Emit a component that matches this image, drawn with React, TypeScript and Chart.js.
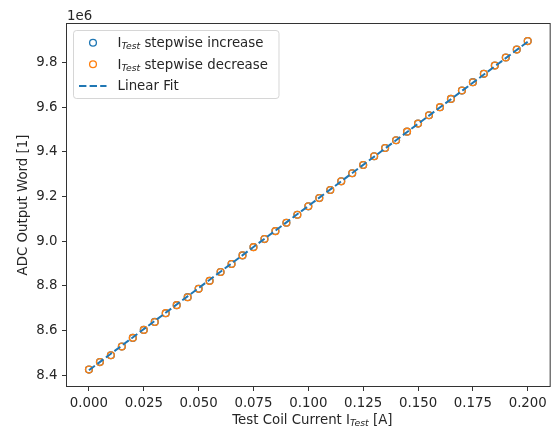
import React, { useEffect, useRef } from "react";
import { Chart, registerables } from "chart.js";

Chart.register(...registerables);

const currents = [
  0, 0.005, 0.01, 0.015, 0.02, 0.025, 0.03, 0.035, 0.04, 0.045,
  0.05, 0.055, 0.06, 0.065, 0.07, 0.075, 0.08, 0.085, 0.09, 0.095,
  0.1, 0.105, 0.11, 0.115, 0.12, 0.125, 0.13, 0.135, 0.14, 0.145,
  0.15, 0.155, 0.16, 0.165, 0.17, 0.175, 0.18, 0.185, 0.19, 0.195, 0.2,
];

const increaseWord = [
  8425600, 8459000, 8489700, 8528700, 8567300, 8603100, 8639000, 8678000, 8713900, 8749800,
  8787000, 8822900, 8862500, 8898500, 8936800, 8974000, 9009900, 9045700, 9083000, 9118800,
  9156500, 9193700, 9229600, 9268600, 9304500, 9341700, 9380700, 9417900, 9452500, 9491000,
  9526900, 9564600, 9600400, 9637700, 9674900, 9712600, 9749800, 9787000, 9822900, 9858700, 9896400,
];

const decreaseWord = [
  8425400, 8459200, 8489900, 8528500, 8567500, 8603300, 8638800, 8678200, 8714100, 8749600,
  8787200, 8822700, 8862700, 8898300, 8937000, 8973800, 9010100, 9045500, 9083200, 9118600,
  9156700, 9193500, 9229800, 9268400, 9304700, 9341500, 9380900, 9417700, 9452700, 9490800,
  9527100, 9564400, 9600600, 9637500, 9675100, 9712400, 9750000, 9786800, 9823100, 9858500, 9896600,
];

const fitCurrent = [0, 0.2];
const fitWord = [8422800, 9893800];

const xTicks = [0, 0.025, 0.05, 0.075, 0.1, 0.125, 0.15, 0.175, 0.2];
const yTicks = [8400000, 8600000, 8800000, 9000000, 9200000, 9400000, 9600000, 9800000];

const BLUE = "#1f77b4";
const ORANGE = "#ff7f0e";
const TEXT = "#262626";
const FAMILY = "'DejaVu Sans', sans-serif";
const FS = 13.33;

type Part = { text: string; font: string; dy: number };

function richWidth(ctx: CanvasRenderingContext2D, parts: Part[]) {
  let w = 0;
  for (const p of parts) {
    ctx.font = p.font;
    w += ctx.measureText(p.text).width;
  }
  return w;
}

function drawRich(ctx: CanvasRenderingContext2D, parts: Part[], x: number, y: number) {
  let cx = x;
  for (const p of parts) {
    ctx.font = p.font;
    ctx.fillText(p.text, cx, y + p.dy);
    cx += ctx.measureText(p.text).width;
  }
}

const main = `${FS}px ${FAMILY}`;
const sub = `italic 9.3px ${FAMILY}`;

const decorPlugin = {
  id: "decor",
  afterDraw(chart: any) {
    const ctx: CanvasRenderingContext2D = chart.ctx;
    const a = chart.chartArea;
    ctx.save();
    // frame
    ctx.strokeStyle = "#333";
    ctx.lineWidth = 1;
    ctx.strokeRect(a.left - 0.5, a.top - 0.5, a.right - a.left + 1, a.bottom - a.top + 1);

    ctx.fillStyle = TEXT;
    ctx.textBaseline = "alphabetic";
    ctx.textAlign = "left";

    // offset text
    ctx.font = main;
    ctx.fillText("1e6", a.left, 20);

    // x title
    const xParts: Part[] = [
      { text: "Test Coil Current I", font: main, dy: 0 },
      { text: "Test", font: sub, dy: 2 },
      { text: " [A]", font: main, dy: 0 },
    ];
    const xw = richWidth(ctx, xParts);
    drawRich(ctx, xParts, (a.left + a.right) / 2 - xw / 2 + 4, 423.5);

    // y title
    ctx.save();
    ctx.translate(26.5, (a.top + a.bottom) / 2);
    ctx.rotate(-Math.PI / 2);
    ctx.font = main;
    ctx.textAlign = "center";
    ctx.fillText("ADC Output Word [1]", 0, 0);
    ctx.restore();

    // legend
    const bx = 73.5, by = 30.5, bw = 205.5, bh = 68, r = 3;
    ctx.beginPath();
    ctx.moveTo(bx + r, by);
    ctx.lineTo(bx + bw - r, by);
    ctx.arcTo(bx + bw, by, bx + bw, by + r, r);
    ctx.lineTo(bx + bw, by + bh - r);
    ctx.arcTo(bx + bw, by + bh, bx + bw - r, by + bh, r);
    ctx.lineTo(bx + r, by + bh);
    ctx.arcTo(bx, by + bh, bx, by + bh - r, r);
    ctx.lineTo(bx, by + r);
    ctx.arcTo(bx, by, bx + r, by, r);
    ctx.closePath();
    ctx.fillStyle = "rgba(255,255,255,0.8)";
    ctx.fill();
    ctx.strokeStyle = "rgba(204,204,204,0.8)";
    ctx.lineWidth = 1;
    ctx.stroke();

    const rows = [
      { kind: "marker", color: BLUE, label: "stepwise increase", y: 42.7 },
      { kind: "marker", color: ORANGE, label: "stepwise decrease", y: 64.3 },
      { kind: "line", color: BLUE, label: "Linear Fit", y: 86 },
    ];
    for (const row of rows) {
      if (row.kind === "marker") {
        ctx.beginPath();
        ctx.arc(93, row.y, 3.4, 0, Math.PI * 2);
        ctx.strokeStyle = row.color;
        ctx.lineWidth = 1.33;
        ctx.stroke();
        ctx.fillStyle = TEXT;
        drawRich(ctx, [
          { text: "I", font: main, dy: 0 },
          { text: "Test", font: sub, dy: 2 },
          { text: " " + row.label, font: main, dy: 0 },
        ], 117.5, row.y + 4.3);
      } else {
        ctx.beginPath();
        ctx.setLineDash([7.4, 3.2]);
        ctx.moveTo(79, row.y);
        ctx.lineTo(106.5, row.y);
        ctx.strokeStyle = row.color;
        ctx.lineWidth = 2;
        ctx.stroke();
        ctx.setLineDash([]);
        ctx.fillStyle = TEXT;
        ctx.font = main;
        ctx.fillText(row.label, 117.5, row.y + 4.3);
      }
    }
    ctx.restore();
  },
};

export default function App() {
  const ref = useRef<HTMLCanvasElement | null>(null);

  useEffect(() => {
    if (!ref.current) return;
    const tickFont = { family: FAMILY, size: FS };
    const chart = new Chart(ref.current, {
      type: "scatter",
      data: {
        datasets: [
          {
            label: "Linear Fit",
            data: fitCurrent.map((x, i) => ({ x, y: fitWord[i] })),
            showLine: true,
            borderColor: BLUE,
            borderWidth: 2,
            borderDash: [7.4, 3.2],
            pointRadius: 0,
            order: 0,
          },
          {
            label: "I_Test stepwise decrease",
            data: currents.map((x, i) => ({ x, y: decreaseWord[i] })),
            showLine: false,
            pointStyle: "circle",
            pointRadius: 3.4,
            borderWidth: 1.33,
            borderColor: ORANGE,
            backgroundColor: "rgba(0,0,0,0)",
            order: 1,
          },
          {
            label: "I_Test stepwise increase",
            data: currents.map((x, i) => ({ x, y: increaseWord[i] })),
            showLine: false,
            pointStyle: "circle",
            pointRadius: 3.4,
            borderWidth: 1.33,
            borderColor: BLUE,
            backgroundColor: "rgba(0,0,0,0)",
            order: 2,
          },
        ],
      },
      options: {
        responsive: false,
        animation: false,
        devicePixelRatio: 1,
        layout: { padding: { top: 24, right: 2, left: 0, bottom: 0 } },
        plugins: {
          legend: { display: false },
          tooltip: { enabled: false },
        },
        scales: {
          x: {
            type: "linear",
            min: -0.01,
            max: 0.21,
            afterBuildTicks: (s: any) => {
              s.ticks = xTicks.map((v) => ({ value: v }));
            },
            afterFit: (s: any) => {
              s.height = 42;
            },
            ticks: {
              autoSkip: false,
              maxRotation: 0,
              padding: 5,
              color: TEXT,
              font: tickFont,
              callback: (v: any) => Number(v).toFixed(3),
            },
            grid: {
              display: true,
              drawOnChartArea: false,
              drawTicks: true,
              tickLength: 5,
              tickColor: "#333",
              tickWidth: 1,
            },
            border: { display: false },
          },
          y: {
            type: "linear",
            min: 8352000,
            max: 9973000,
            afterBuildTicks: (s: any) => {
              s.ticks = yTicks.map((v) => ({ value: v }));
            },
            afterFit: (s: any) => {
              s.width = 67;
            },
            ticks: {
              autoSkip: false,
              padding: 4.5,
              color: TEXT,
              font: tickFont,
              callback: (v: any) => (Number(v) / 1e6).toFixed(1),
            },
            grid: {
              display: true,
              drawOnChartArea: false,
              drawTicks: true,
              tickLength: 5,
              tickColor: "#333",
              tickWidth: 1,
            },
            border: { display: false },
          },
        },
      },
      plugins: [decorPlugin],
    } as any);
    return () => chart.destroy();
  }, []);

  return (
    <div style={{ position: "absolute", left: 0, top: 0, width: 555, height: 428, background: "#fff" }}>
      <canvas ref={ref} width={555} height={428} style={{ display: "block" }} />
    </div>
  );
}
